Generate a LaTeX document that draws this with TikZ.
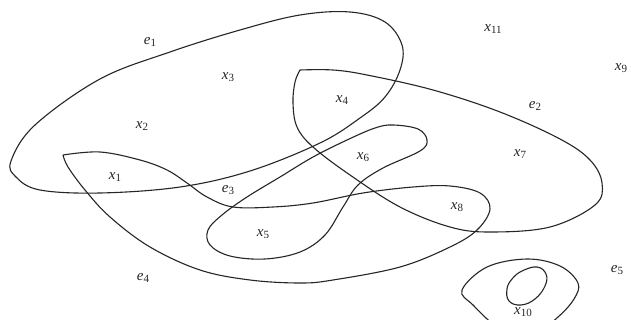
\documentclass[tikz,border=0pt]{standalone}
\usepackage{fontspec}
\setmainfont{Liberation Serif}
\newcommand\vlab[2]{\textit{#1}\raisebox{-0.3ex}{\fontsize{11}{12}\selectfont #2}}
\tikzset{
  edge/.style={line width=1.1pt, draw=black!85},
  lbl/.style={font=\fontsize{15}{17}\selectfont, text=black!85, inner sep=0pt}
}
\begin{document}
\begin{tikzpicture}[x=1pt,y=-1pt]
\useasboundingbox (0,0) rectangle (631,320);
\fill[white] (0,0) rectangle (631,320);
\clip (0,0) rectangle (631,320);
% e1
\draw[edge] plot[smooth cycle, tension=0.6] coordinates {
 (11,161) (35,125) (100,79) (170,52) (240,30) (300,15) (350,12) (385,22)
 (402,45) (400,70) (385,97) (360,118) (320,143) (250,171) (180,187)
 (100,193) (40,190) (16,177)};
% e2
\draw[edge] plot[smooth, tension=0.6] coordinates {
 (300,70) (333,70) (367,75) (433,90) (500,112) (560,139) (590,160) (602,183)
 (595,205) (550,227) (490,232) (450,227) (400,207) (350,175) (313,147)
 (297,127) (293,103) (295,82) (300,70)};
% curve around x1, x5, x8
\draw[edge] plot[smooth, tension=0.6] coordinates {
 (63,155) (100,152) (140,160) (167,170) (187,183) (207,197) (233,207)
 (273,207) (313,203) (363,193) (413,187) (450,186) (480,193) (490,209)
 (477,230) (450,247) (400,267) (333,280) (300,283) (250,280) (200,270)
 (150,247) (110,217) (85,190) (68,167) (63,155)};
% curve around x5, x6
\draw[edge] plot[smooth cycle, tension=0.6] coordinates {
 (393,125) (418,129) (427,140) (420,151) (383,168) (358,185) (343,207)
 (325,235) (300,252) (265,259) (230,256) (210,245) (208,230) (222,215)
 (247,197) (280,177) (313,157) (347,140) (375,128)};
% e5 outer
\draw[edge] plot[smooth cycle, tension=0.6] coordinates {
 (462,290) (487,267) (527,259) (560,266) (578,283) (574,299) (558,317)
 (535,333) (500,328) (473,305)};
% e5 inner
\draw[edge] plot[smooth cycle, tension=0.7] coordinates {
 (522,271) (537,267) (546,274) (545,286) (535,299) (521,305) (509,301)
 (507,289) (512,279)};
% labels
\node[lbl] (e1) at (150,42) {\vlab{e}{1}};
\node[lbl] (e2) at (535,106) {\vlab{e}{2}};
\node[lbl] (e3) at (228,190) {\vlab{e}{3}};
\node[lbl] (e4) at (143,278) {\vlab{e}{4}};
\node[lbl] (e5) at (617,270) {\vlab{e}{5}};
\node[lbl] (x1) at (115,177) {\vlab{x}{1}};
\node[lbl] (x2) at (142,126) {\vlab{x}{2}};
\node[lbl] (x3) at (228,77) {\vlab{x}{3}};
\node[lbl] (x4) at (342,100) {\vlab{x}{4}};
\node[lbl] (x5) at (263,234) {\vlab{x}{5}};
\node[lbl] (x6) at (363,157) {\vlab{x}{6}};
\node[lbl] (x7) at (520,154) {\vlab{x}{7}};
\node[lbl] (x8) at (457,207) {\vlab{x}{8}};
\node[lbl] (x9) at (621,68) {\vlab{x}{9}};
\node[lbl] (x10) at (523,312) {\vlab{x}{10}};
\node[lbl] (x11) at (493,29) {\vlab{x}{11}};
\end{tikzpicture}
\end{document}
